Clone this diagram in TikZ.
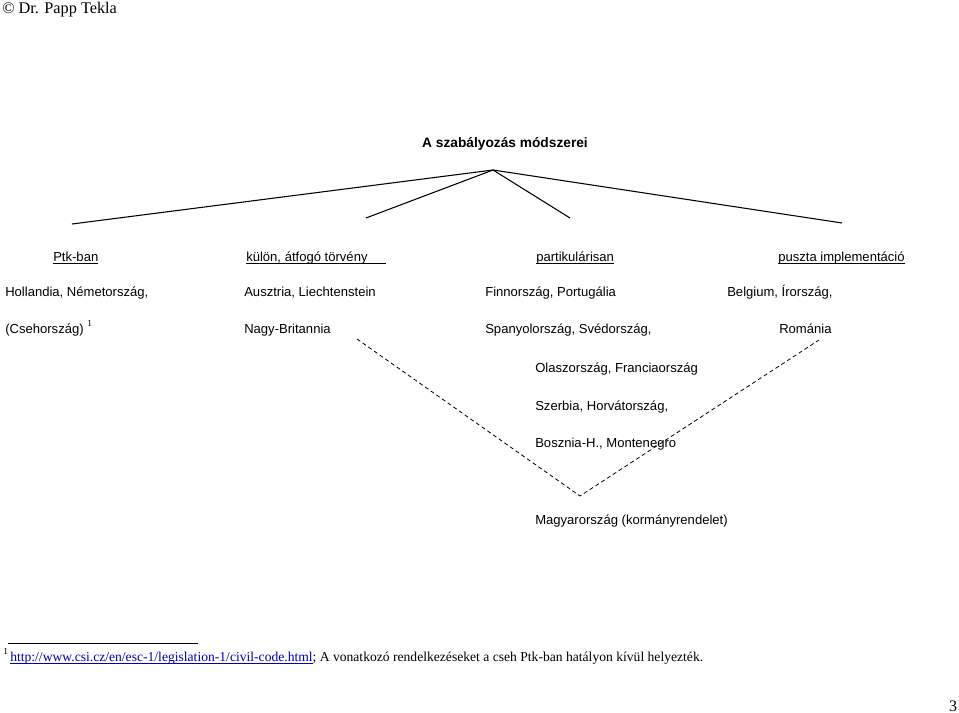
\documentclass[tikz,border=0pt]{standalone}
\usepackage{fontspec}
\setmainfont{Liberation Serif}
\setsansfont{Liberation Sans}
\usepackage{tikz}
\usetikzlibrary{calc}

\newcommand{\ulsmash}[1]{\underline{\smash{#1}}}

\tikzset{
	cell/.style={anchor=base west, inner sep=0pt, font=\sffamily\fontsize{9.8}{12}\selectfont},
	head/.style={cell, anchor=base},
	branch/.style={line width=0.8pt},
	dashbranch/.style={line width=0.6pt, dash pattern=on 3pt off 2.2pt}
}

\begin{document}
\begin{tikzpicture}[x=0.75pt, y=-0.75pt]

	\useasboundingbox (0, 0) rectangle (959, 713);

	\node [anchor=base west, inner sep=0pt, font=\fontsize{12.2}{14}\selectfont] (author) at (2, 14) {\textcopyright{} Dr. Papp Tekla};

	\node [head, font=\sffamily\bfseries\fontsize{10.3}{12}\selectfont] (title) at (505, 147) {A szabályozás módszerei};

	% the tree
	\coordinate (apex) at (493, 170);
	\coordinate (b1) at (72, 224);
	\coordinate (b2) at (366, 218);
	\coordinate (b3) at (570, 218);
	\coordinate (b4) at (842, 223);
	\draw [branch] (apex) -- (b1);
	\draw [branch] (apex) -- (b2);
	\draw [branch] (apex) -- (b3);
	\draw [branch] (apex) -- (b4);

	\node [cell] (ptk) at (53, 261) {\ulsmash{Ptk-ban}};
	\node [cell] (kulon) at (246, 261) {\ulsmash{külön, átfogó törvény\hspace{14pt}}};
	\node [cell] (partik) at (536, 261) {\ulsmash{partikulárisan}};
	\node [cell] (puszta) at (778, 261) {\ulsmash{puszta implementáció}};

	\node [cell] (c11) at (5, 296) {Hollandia, Németország,};
	\node [cell] (c12) at (5, 333) {(Csehország) \raisebox{5pt}{\rmfamily\fontsize{7}{8}\selectfont 1}};
	\node [cell] (c21) at (244, 296) {Ausztria, Liechtenstein};
	\node [cell] (c22) at (244, 333) {Nagy-Britannia};
	\node [cell] (c31) at (485, 296) {Finnország, Portugália};
	\node [cell] (c32) at (485, 333) {Spanyolország, Svédország,};
	\node [cell] (c41) at (727, 296) {Belgium, Írország,};
	\node [cell] (c42) at (779, 333) {Románia};

	\node [cell] (m1) at (535, 372) {Olaszország, Franciaország};
	\node [cell] (m2) at (535, 410) {Szerbia, Horvátország,};
	\node [cell] (m3) at (535, 447) {Bosznia-H., Montenegro};
	\node [cell] (hu) at (535, 524) {Magyarország (kormányrendelet)};

	% dashed wedge
	\coordinate (wl) at (357, 339);
	\coordinate (wb) at (580, 496);
	\coordinate (wr) at (819, 340);
	\draw [dashbranch] (wl) -- (wb) -- (wr);

	% footnote
	\coordinate (fnl) at (8, 643);
	\coordinate (fnr) at (198, 643);
	\draw [line width=0.6pt] (fnl) -- (fnr);
	\node [anchor=base west, inner sep=0pt, font=\fontsize{7}{8}\selectfont] (fnmark) at (3, 654) {1};
	\node [anchor=base west, inner sep=0pt, font=\fontsize{10.2}{12}\selectfont] (fntext) at (10, 661)
		{\textcolor{blue!70!black}{\ulsmash{http://www.csi.cz/en/esc-1/legislation-1/civil-code.html}}; A vonatkozó rendelkezéseket a cseh Ptk-ban hatályon kívül helyezték.};

	\node [anchor=base, inner sep=0pt, font=\fontsize{12}{14}\selectfont] (page) at (953, 711) {3};

\end{tikzpicture}
\end{document}
